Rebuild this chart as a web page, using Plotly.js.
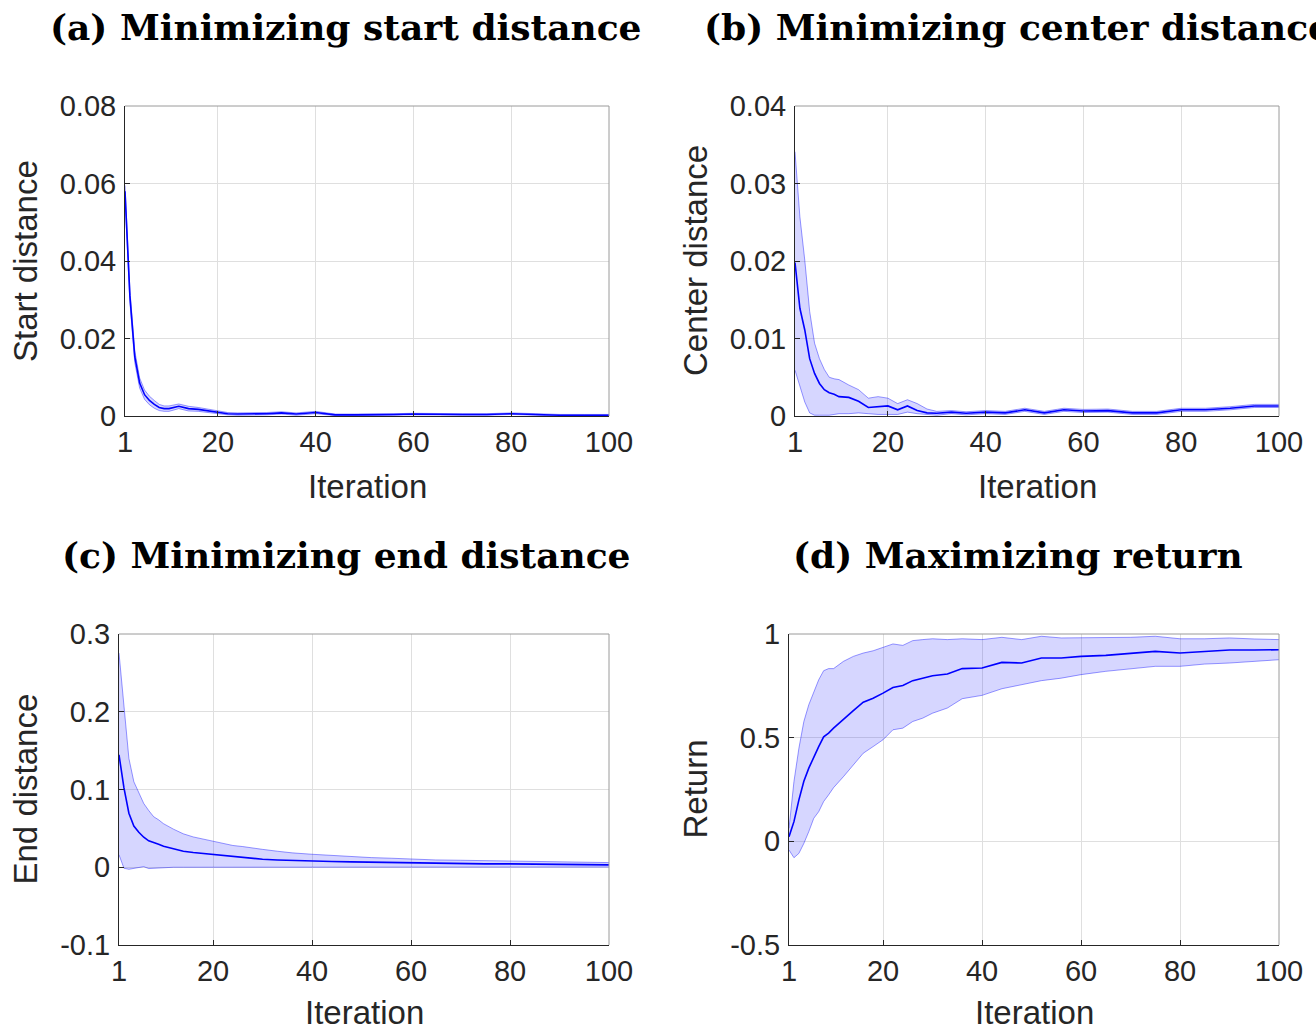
<!DOCTYPE html>
<html>
<head>
<meta charset="utf-8">
<script src="https://cdn.plot.ly/plotly-3.0.1.min.js"></script>
<style>html,body{margin:0;padding:0;background:#fff;}#chart{width:1316px;height:1032px;}</style>
</head>
<body>
<div id="chart"></div>
<script>
// ---------- data ----------
const iterations = [1,2,3,4,5,6,7,8,9,10,12,14,16,18,20,22,24,26,28,30,33,36,40,44,48,52,56,60,65,70,75,80,85,90,95,100];

const startMean  = [0.058,0.031,0.0153,0.0085,0.0055,0.004,0.003,0.0022,0.0019,0.0019,0.0025,0.0019,0.0017,0.0013,0.001,0.0006,0.0005,0.0005,0.0005,0.0006,0.0008,0.0005,0.0009,0.0003,0.0003,0.0003,0.0004,0.0005,0.0004,0.0004,0.0004,0.0006,0.0004,0.0002,0.0002,0.0002];
const startUpper = [0.0595,0.0325,0.0168,0.0098,0.0067,0.0051,0.004,0.003,0.0026,0.0026,0.0031,0.0025,0.0022,0.0017,0.0014,0.0009,0.0008,0.0008,0.0008,0.0009,0.0011,0.0008,0.0012,0.0005,0.0005,0.0005,0.0006,0.0007,0.0006,0.0006,0.0006,0.0008,0.0006,0.0004,0.0004,0.0004];
const startLower = [0.0565,0.0295,0.0138,0.0072,0.0043,0.0029,0.002,0.0014,0.0012,0.0012,0.0019,0.0013,0.0012,0.0009,0.0006,0.0003,0.0002,0.0002,0.0002,0.0003,0.0005,0.0002,0.0006,0.0001,0.0001,0.0001,0.0002,0.0003,0.0002,0.0002,0.0002,0.0004,0.0002,0.0,0.0,0.0];

const centerMean  = [0.0198,0.0139,0.0111,0.0074,0.0055,0.0042,0.0034,0.003,0.0028,0.0025,0.0024,0.0019,0.0011,0.0012,0.0013,0.0008,0.0013,0.0007,0.0004,0.00035,0.0005,0.00035,0.0005,0.0004,0.0008,0.0004,0.0008,0.00065,0.0007,0.0004,0.0004,0.0008,0.0008,0.001,0.0013,0.0013];
const centerUpper = [0.0341,0.0257,0.0201,0.0135,0.0094,0.0074,0.006,0.005,0.0048,0.0047,0.004,0.0034,0.0023,0.0025,0.0023,0.0016,0.0021,0.0016,0.0009,0.0006,0.0007,0.00055,0.0007,0.0006,0.001,0.0006,0.001,0.00085,0.0009,0.0006,0.0006,0.001,0.001,0.0012,0.0015,0.0015];
const centerLower = [0.0059,0.0038,0.0018,0.0004,0.0001,0.0001,0.0001,0.0001,0.0002,0.0003,0.0003,0.0004,0.0003,0.0002,0.0002,0.0002,0.0005,0.0003,0.0002,0.0001,0.0003,0.00015,0.0003,0.0002,0.0006,0.0002,0.0006,0.00045,0.0005,0.0002,0.0002,0.0006,0.0006,0.0008,0.0011,0.0011];

const endMean  = [0.1446,0.102,0.0695,0.053,0.045,0.0386,0.034,0.032,0.0296,0.027,0.0236,0.0206,0.0189,0.0176,0.0159,0.0146,0.0133,0.012,0.0112,0.0103,0.0094,0.0086,0.0082,0.0073,0.0069,0.0064,0.006,0.0056,0.0052,0.0047,0.0043,0.0043,0.0039,0.0037,0.0034,0.003];
const endUpper = [0.2755,0.205,0.14,0.11,0.095,0.082,0.073,0.065,0.061,0.056,0.049,0.043,0.039,0.036,0.033,0.031,0.028,0.0266,0.0245,0.023,0.0206,0.0185,0.0167,0.015,0.0133,0.0124,0.0116,0.0103,0.0094,0.009,0.0086,0.0082,0.0073,0.0069,0.0064,0.006];
const endLower = [0.016,-0.0013,-0.0026,-0.0013,0.0,0.0008,-0.0017,-0.0013,-0.0004,-0.0004,0.0,0.0,0.0,0.0002,0.0002,0.0002,0.0003,0.0003,0.0003,0.0003,0.0003,0.0004,0.0004,0.0004,0.0004,0.0004,0.0004,0.0004,0.0004,0.0004,0.0003,0.0003,0.0003,0.0003,0.0003,0.0003];

const returnMean  = [0.0225,0.095,0.2,0.29,0.353,0.409,0.457,0.504,0.522,0.546,0.586,0.63,0.671,0.69,0.715,0.742,0.752,0.775,0.787,0.799,0.807,0.833,0.836,0.863,0.86,0.884,0.884,0.892,0.897,0.908,0.916,0.908,0.916,0.923,0.923,0.924];
const returnUpper = [0.063,0.288,0.449,0.578,0.659,0.723,0.779,0.823,0.833,0.833,0.868,0.892,0.908,0.919,0.936,0.952,0.945,0.968,0.973,0.977,0.973,0.977,0.973,0.984,0.973,0.989,0.981,0.981,0.984,0.984,0.989,0.977,0.977,0.981,0.976,0.973];
const returnLower = [-0.042,-0.079,-0.058,-0.01,0.047,0.111,0.143,0.192,0.224,0.259,0.312,0.369,0.425,0.457,0.49,0.538,0.546,0.578,0.594,0.618,0.643,0.688,0.704,0.736,0.755,0.775,0.787,0.804,0.82,0.831,0.844,0.844,0.855,0.86,0.868,0.876];

const xTickVals = [1,20,40,60,80,100];
const xTickText = ['1','20','40','60','80','100'];
const startTickVals = [0,0.02,0.04,0.06,0.08];
const startTickText = ['0','0.02','0.04','0.06','0.08'];
const centerTickVals = [0,0.01,0.02,0.03,0.04];
const centerTickText = ['0','0.01','0.02','0.03','0.04'];
const endTickVals = [-0.1,0,0.1,0.2,0.3];
const endTickText = ['-0.1','0','0.1','0.2','0.3'];
const returnTickVals = [-0.5,0,0.5,1];
const returnTickText = ['-0.5','0','0.5','1'];

const titles = ['(a) Minimizing start distance','(b) Minimizing center distance','(c) Minimizing end distance','(d) Maximizing return'];
const yLabels = ['Start distance','Center distance','End distance','Return'];
const xLabel = 'Iteration';

// ---------- layout helpers ----------
const W = 1316, H = 1032;
const px = v => v / W;
const py = v => 1 - v / H;

const panels = [
  {mean:startMean, up:startUpper, lo:startLower, yr:[0,0.08], tv:startTickVals, tt:startTickText, l:125, r:609, t:106, b:416, title:titles[0], tx:346, ty:27, yl:yLabels[0], ylx:25, xlx:367, xly:487},
  {mean:centerMean, up:centerUpper, lo:centerLower, yr:[0,0.04], tv:centerTickVals, tt:centerTickText, l:795, r:1279, t:106, b:416, title:titles[1], tx:1017, ty:27, yl:yLabels[1], ylx:695, xlx:1037, xly:487},
  {mean:endMean, up:endUpper, lo:endLower, yr:[-0.1,0.3], tv:endTickVals, tt:endTickText, l:119, r:609, t:634, b:945, title:titles[2], tx:346, ty:555, yl:yLabels[2], ylx:25, xlx:364, xly:1012},
  {mean:returnMean, up:returnUpper, lo:returnLower, yr:[-0.5,1], tv:returnTickVals, tt:returnTickText, l:789, r:1279, t:634, b:945, title:titles[3], tx:1018, ty:555, yl:yLabels[3], ylx:695, xlx:1034, xly:1012}
];

const tickFont = {family:'"Liberation Sans", Arial, sans-serif', size:29, color:'#262626'};
const labelFont = {family:'"Liberation Sans", Arial, sans-serif', size:33, color:'#262626'};
const titleFont = {family:'"DejaVu Serif", serif', size:36, color:'#000000', weight:'bold'};

const data = [];
const layout = {
  width: W, height: H,
  margin: {l:0, r:0, t:0, b:0},
  paper_bgcolor: '#ffffff', plot_bgcolor: '#ffffff',
  showlegend: false,
  annotations: [], shapes: []
};

panels.forEach((p, k) => {
  const n = k === 0 ? '' : String(k + 1);
  const xa = 'x' + n, ya = 'y' + n;
  data.push({x: iterations, y: p.lo, xaxis: xa, yaxis: ya, type: 'scatter', mode: 'lines',
             line: {color: 'rgba(0,0,255,0.4)', width: 1}, hoverinfo: 'skip'});
  data.push({x: iterations, y: p.up, xaxis: xa, yaxis: ya, type: 'scatter', mode: 'lines',
             fill: 'tonexty', fillcolor: 'rgba(0,0,255,0.16)',
             line: {color: 'rgba(0,0,255,0.4)', width: 1}, hoverinfo: 'skip'});
  data.push({x: iterations, y: p.mean, xaxis: xa, yaxis: ya, type: 'scatter', mode: 'lines',
             line: {color: '#0000ff', width: 1.6}});

  layout['xaxis' + n] = {
    domain: [px(p.l), px(p.r)], anchor: ya, range: [1, 100],
    tickmode: 'array', tickvals: xTickVals, ticktext: xTickText,
    ticks: 'inside', ticklen: 5, tickcolor: '#262626', tickwidth: 1,
    showline: true, linecolor: '#262626', linewidth: 1,
    showgrid: true, gridcolor: '#dfdfdf', gridwidth: 1, zeroline: false,
    tickfont: tickFont, ticklabelstandoff: 0
  };
  layout['yaxis' + n] = {
    domain: [py(p.b), py(p.t)], anchor: xa, range: p.yr,
    tickmode: 'array', tickvals: p.tv, ticktext: p.tt,
    ticks: 'inside', ticklen: 5, tickcolor: '#262626', tickwidth: 1,
    showline: true, linecolor: '#262626', linewidth: 1,
    showgrid: true, gridcolor: '#dfdfdf', gridwidth: 1, zeroline: false,
    tickfont: tickFont, ticklabelstandoff: 2
  };
  // top and right box edges
  layout.shapes.push({type:'line', xref: xa + ' domain', yref: ya + ' domain', x0:0, x1:1, y0:1, y1:1, line:{color:'#9a9a9a', width:1}});
  layout.shapes.push({type:'line', xref: xa + ' domain', yref: ya + ' domain', x0:1, x1:1, y0:0, y1:1, line:{color:'#9a9a9a', width:1}});

  layout.annotations.push({text: '<b>' + p.title + '</b>', xref:'paper', yref:'paper', x: px(p.tx), y: py(p.ty),
                           xanchor:'center', yanchor:'middle', showarrow:false, font: titleFont});
  layout.annotations.push({text: p.yl, xref:'paper', yref:'paper', x: px(p.ylx), y: py((p.t + p.b) / 2),
                           xanchor:'center', yanchor:'middle', textangle:-90, showarrow:false, font: labelFont});
  layout.annotations.push({text: xLabel, xref:'paper', yref:'paper', x: px(p.xlx), y: py(p.xly),
                           xanchor:'center', yanchor:'middle', showarrow:false, borderpad:0, font: labelFont});
});

Plotly.newPlot('chart', data, layout, {displayModeBar: false, staticPlot: true});
</script>
</body>
</html>
